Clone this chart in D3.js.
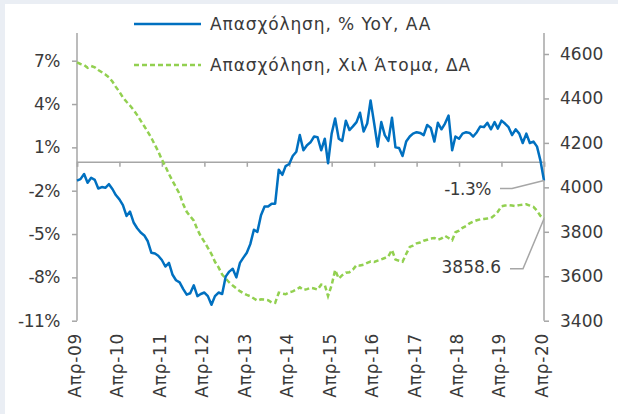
<!DOCTYPE html>
<html>
<head>
<meta charset="utf-8">
<script src="https://cdn.jsdelivr.net/npm/d3@7"></script>
<style>
  html, body { margin: 0; padding: 0; background: #ffffff; }
  svg { display: block; }
  text { font-family: "DejaVu Sans", "Noto Sans", sans-serif; fill: #3a3a3a; }
</style>
</head>
<body>
<svg id="chart" width="618" height="414"></svg>
<script>
// ---- Data ----
const startMonth = "2009-04";
const yoyValues = [
  -1.3, -1.2, -0.85, -1.45, -1.1, -1.25, -1.85, -1.75, -1.8, -1.55,
  -1.9, -2.3, -2.6, -3.0, -3.75, -3.45, -4.2, -4.6, -4.9, -5.1,
  -5.5, -6.3, -6.35, -6.5, -6.8, -7.25, -7.0, -7.8, -8.2, -8.35,
  -8.8, -9.2, -9.1, -8.55, -9.3, -9.15, -9.05, -9.3, -9.9, -9.3,
  -9.05, -9.15, -7.95, -7.6, -7.4, -8.0, -7.0, -6.65, -6.3, -5.7,
  -4.7, -4.85, -3.7, -3.1, -3.1, -2.9, -2.9, -0.55, -0.9, -0.3,
  -0.15, 0.4, 0.7, 1.85, 0.8, 1.15, 1.35, 1.75, 1.7, 0.8,
  1.6, -0.1, 1.95, 3.0, 1.6, 1.45, 2.85, 2.2, 2.45, 2.75,
  3.4, 2.1, 2.65, 4.25, 2.65, 1.05, 2.75, 1.85, 1.45, 3.05,
  1.0, 0.95, 0.4, 1.4, 1.75, 1.95, 2.05, 2.0, 1.85, 2.55,
  2.35, 1.4, 2.7, 2.25, 2.65, 3.2, 0.8, 1.75, 1.6, 1.95,
  2.05, 2.0, 1.75, 2.05, 2.45, 2.4, 2.7, 2.25, 2.75, 2.3,
  2.85, 2.65, 2.4, 1.85, 2.25, 1.95, 1.3, 1.95, 1.3, 1.4,
  1.05, 0.1, -1.3
];
const levelValues = [
  4562, 4555, 4550, 4538, 4546, 4540, 4528, 4518, 4508, 4495,
  4475, 4452, 4430, 4405, 4385, 4368, 4348, 4325, 4300, 4275,
  4250, 4222, 4190, 4162, 4125, 4095, 4060, 4030, 4000, 3970,
  3925, 3890, 3870, 3850, 3810, 3780, 3755, 3728, 3700, 3665,
  3640, 3608, 3590, 3572, 3558, 3545, 3533, 3524, 3516, 3510,
  3500, 3490, 3496, 3495, 3492, 3482, 3480, 3526, 3522, 3519,
  3528, 3532, 3540, 3550, 3538, 3542, 3548, 3545, 3540, 3562,
  3560, 3511, 3560, 3628, 3590, 3605, 3616, 3618, 3630, 3650,
  3648, 3652, 3660, 3666, 3664, 3670, 3676, 3682, 3690, 3718,
  3675, 3670, 3665, 3700, 3732, 3738, 3748, 3752, 3760, 3764,
  3770, 3772, 3764, 3770, 3782, 3772, 3762, 3798, 3805, 3818,
  3826, 3838, 3846, 3852, 3856, 3858, 3860, 3862, 3875, 3890,
  3915, 3918, 3920, 3918, 3916, 3920, 3922, 3924, 3918, 3912,
  3895, 3872, 3858.6
];
const xTickLabels = ["Απρ-09","Απρ-10","Απρ-11","Απρ-12","Απρ-13","Απρ-14","Απρ-15","Απρ-16","Απρ-17","Απρ-18","Απρ-19","Απρ-20"];
const leftTicks = [7, 4, 1, -2, -5, -8, -11];
const rightTicks = [4600, 4400, 4200, 4000, 3800, 3600, 3400];
const seriesNames = ["Απασχόληση, % YoY, AA", "Απασχόληση, Χιλ Άτομα, ΔΑ"];
const lastYoyLabel = "-1.3%";
const lastLevelLabel = "3858.6";

// ---- Layout ----
const svg = d3.select("#chart");
const W = 618, H = 414;
const plotL = 77, plotR = 544, axisTop = 33, plotBottom = 320.7;
const blue = "#0070c0", green = "#92d050", gray = "#a6a6a6";
const FONT = '"DejaVu Sans", sans-serif';
const FS = "17px";

svg.append("rect").attr("width", W).attr("height", H).attr("fill", "#eaeef4");
svg.append("rect").attr("x", 5).attr("y", 4).attr("width", W - 5).attr("height", H - 4).attr("fill", "#ffffff");

const parse = d3.timeParse("%Y-%m");
const t0 = parse(startMonth);
const dates = yoyValues.map((_, i) => d3.timeMonth.offset(t0, i));

const x = d3.scaleTime().domain([dates[0], dates[dates.length - 1]]).range([plotL, plotR]);
const yL = d3.scaleLinear().domain([-11, 7]).range([plotBottom, 60.7]);
const yR = d3.scaleLinear().domain([3400, 4600]).range([plotBottom, 54]);

// Left axis
const leftAxis = d3.axisLeft(yL).tickValues(leftTicks).tickSize(5).tickPadding(12)
  .tickFormat(d => d + "%");
const gL = svg.append("g").attr("transform", `translate(${plotL},0)`).call(leftAxis);
gL.select(".domain").remove();
gL.append("line").attr("x1", 0).attr("x2", 0).attr("y1", axisTop).attr("y2", plotBottom)
  .attr("stroke", gray).attr("stroke-width", 1.5);
gL.selectAll(".tick line").attr("stroke", gray).attr("stroke-width", 1.5);
gL.selectAll(".tick text").style("font-size", FS).attr("fill", "#3a3a3a")
  .style("font-family", FONT).style("letter-spacing", "-0.5px");

// Right axis
const rightAxis = d3.axisRight(yR).tickValues(rightTicks).tickSize(5).tickPadding(11)
  .tickFormat(d3.format("d"));
const gR = svg.append("g").attr("transform", `translate(${plotR},0)`).call(rightAxis);
gR.select(".domain").remove();
gR.append("line").attr("x1", 0).attr("x2", 0).attr("y1", axisTop).attr("y2", plotBottom)
  .attr("stroke", gray).attr("stroke-width", 1.5);
gR.selectAll(".tick line").attr("stroke", gray).attr("stroke-width", 1.5);
gR.selectAll(".tick text").style("font-size", FS).attr("fill", "#3a3a3a")
  .style("font-family", FONT);

// Zero line category axis with ticks
const yearTicks = xTickLabels.map((_, k) => d3.timeMonth.offset(t0, 12 * k));
const zeroY = yL(0);
const xAxis = d3.axisBottom(x).tickValues(yearTicks).tickSize(5).tickFormat("");
const gX = svg.append("g").attr("transform", `translate(0,${zeroY})`).call(xAxis);
gX.select(".domain").attr("stroke", gray).attr("stroke-width", 1.5);
gX.selectAll(".tick line").attr("stroke", gray).attr("stroke-width", 1.5);

// X labels at bottom, rotated
svg.append("g").selectAll("text").data(yearTicks).join("text")
  .attr("transform", (d, k) => `translate(${x(d) + 4},333) rotate(-90)`)
  .attr("text-anchor", "end")
  .style("font-size", "17px")
  .style("letter-spacing", "0.7px")
  .text((d, k) => xTickLabels[k]);

// Lines
const lineL = d3.line().x((d, i) => x(dates[i])).y(d => yL(d));
const lineR = d3.line().x((d, i) => x(dates[i])).y(d => yR(d));

svg.append("path").datum(levelValues).attr("d", lineR)
  .attr("fill", "none").attr("stroke", green).attr("stroke-width", 2.5)
  .attr("stroke-dasharray", "5,3");
svg.append("path").datum(yoyValues).attr("d", lineL)
  .attr("fill", "none").attr("stroke", blue).attr("stroke-width", 2.5)
  .attr("stroke-linejoin", "round");

// Annotations
const lastX = x(dates[dates.length - 1]);
const yA = yL(yoyValues[yoyValues.length - 1]);
const yB = yR(levelValues[levelValues.length - 1]);
svg.append("polyline")
  .attr("points", `${lastX},${yA} 512,${yA + 8} 500,${yA + 8}`)
  .attr("fill", "none").attr("stroke", gray).attr("stroke-width", 1.5);
svg.append("text").attr("x", 491).attr("y", yA + 8).attr("dy", "0.35em")
  .attr("text-anchor", "end").style("font-size", FS).style("letter-spacing", "-0.5px").text(lastYoyLabel);
svg.append("polyline")
  .attr("points", `${lastX},${yB} 523,${yB + 50} 510,${yB + 50}`)
  .attr("fill", "none").attr("stroke", gray).attr("stroke-width", 1.5);
svg.append("text").attr("x", 501).attr("y", yB + 48).attr("dy", "0.35em")
  .attr("text-anchor", "end").style("font-size", FS).text(lastLevelLabel);

// Legend
const legend = svg.append("g");
const legendY = [24, 65];
legend.append("line").attr("x1", 134).attr("x2", 201).attr("y1", legendY[0]).attr("y2", legendY[0])
  .attr("stroke", blue).attr("stroke-width", 2.5);
legend.append("line").attr("x1", 134).attr("x2", 201).attr("y1", legendY[1]).attr("y2", legendY[1])
  .attr("stroke", green).attr("stroke-width", 2.5).attr("stroke-dasharray", "5,3");
legend.selectAll("text.lg").data(seriesNames).join("text").attr("class", "lg")
  .attr("x", 210).attr("y", (d, i) => legendY[i]).attr("dy", "0.35em")
  .style("font-size", FS).style("letter-spacing", "0.9px").text(d => d);
</script>
</body>
</html>
